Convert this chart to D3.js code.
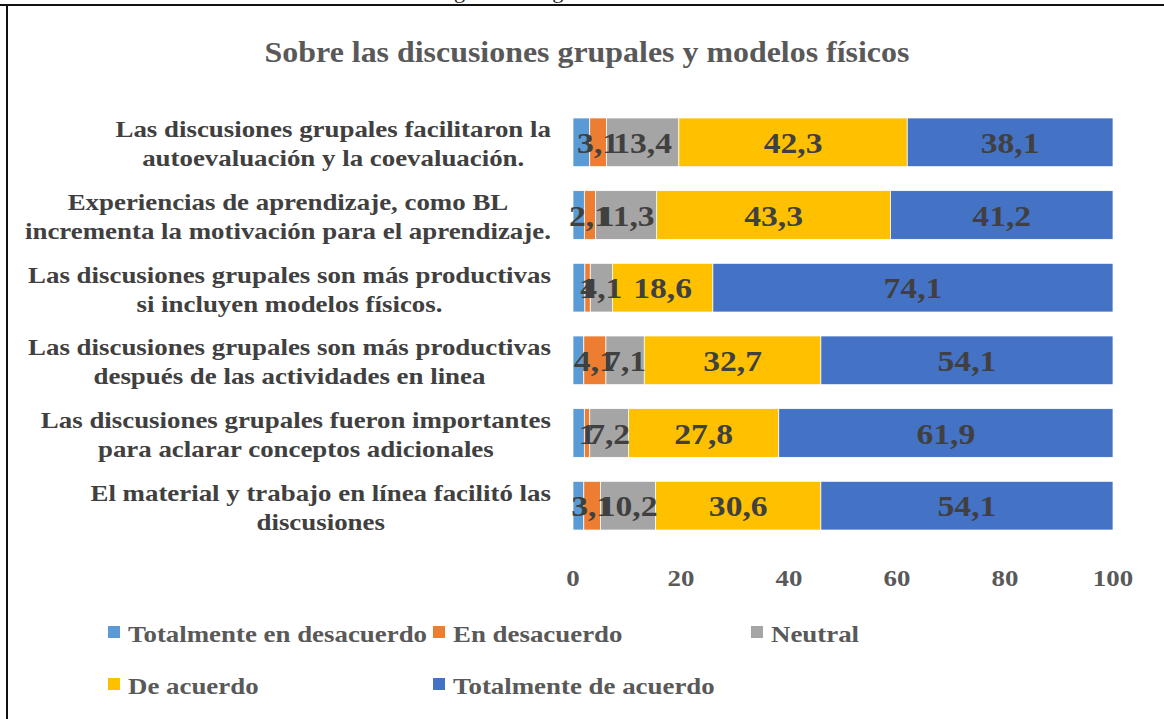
<!DOCTYPE html>
<html>
<head>
<meta charset="utf-8">
<script src="https://cdn.jsdelivr.net/npm/d3@7"></script>
<style>
  body { margin: 0; background: #fff; }
  svg { display: block; font-family: "Liberation Serif", "Times New Roman", serif; font-weight: bold; }
</style>
</head>
<body>
<div id="chart"></div>
<script>
// chart data
const categories = [
    ["Las discusiones grupales facilitaron la", "autoevaluación y la coevaluación."],
    ["Experiencias de aprendizaje, como  BL", "incrementa la motivación para el aprendizaje."],
    ["Las discusiones grupales son más productivas", "si incluyen modelos físicos."],
    ["Las discusiones grupales son más productivas", "después de las actividades en linea"],
    ["Las discusiones grupales  fueron importantes", "para aclarar conceptos adicionales"],
    ["El material y trabajo en línea facilitó las", "discusiones"]
];
const seriesNames = ["Totalmente en desacuerdo", "En desacuerdo", "Neutral", "De acuerdo", "Totalmente de acuerdo"];
const totDesacuerdo = [3.1, 2.1, 2.2, 2.0, 2.1, 2.0];
const desacuerdo = [3.1, 2.1, 1, 4.1, 1, 3.1];
const neutral = [13.4, 11.3, 4.1, 7.1, 7.2, 10.2];
const deAcuerdo = [42.3, 43.3, 18.6, 32.7, 27.8, 30.6];
const totAcuerdo = [38.1, 41.2, 74.1, 54.1, 61.9, 54.1];
const xTicks = [0, 20, 40, 60, 80, 100];

const colors = ["#5B9BD5", "#ED7D31", "#A5A5A5", "#FFC000", "#4472C4"];
const showLabel = [false, true, true, true, true];

const width = 1164, height = 719;
const sx = 1.12;   // the source picture is a bit stretched sideways

const svg = d3.select("#chart").append("svg")
    .attr("width", width)
    .attr("height", height)
    .style("white-space", "pre");

// text with the horizontal stretch
function stext(parent, px, py, anchor) {
    return parent.append("text")
        .attr("transform", `translate(${px},${py}) scale(${sx},1)`)
        .attr("text-anchor", anchor);
}

// caption cut off by the page edge
stext(svg, 560, -2, "middle").attr("font-size", 20).attr("font-weight", "normal")
    .attr("fill", "#222").text("Figura 4: Preguntas BL-MF");

// frame (left + top rule)
svg.append("line").attr("x1", 0).attr("x2", width).attr("y1", 5).attr("y2", 5)
    .attr("stroke", "#111").attr("stroke-width", 2);
svg.append("line").attr("x1", 7).attr("x2", 7).attr("y1", 5).attr("y2", height)
    .attr("stroke", "#111").attr("stroke-width", 2);

// title
stext(svg, 587, 62, "middle")
    .attr("font-size", 28.5)
    .attr("fill", "#595959")
    .text("Sobre las discusiones grupales y modelos físicos");

const x = d3.scaleLinear().domain([0, 100]).range([573, 1113]);
const y = d3.scaleBand().domain(d3.range(categories.length)).range([106, 542]).paddingInner(0.33).paddingOuter(0.165);

const rows = categories.map((c, i) => ({
    idx: i,
    vals: [totDesacuerdo[i], desacuerdo[i], neutral[i], deAcuerdo[i], totAcuerdo[i]]
}));
const stack = d3.stack().keys(d3.range(5)).value((d, k) => d.vals[k]);
const layers = stack(rows);

const fmt = v => Number.isInteger(v) ? String(v) : v.toFixed(1).replace(".", ",");

const g = svg.append("g");
layers.forEach((layer, k) => {
    g.selectAll(".bar" + k)
        .data(layer)
        .join("rect")
        .attr("x", d => x(d[0]))
        .attr("y", d => y(d.data.idx))
        .attr("width", d => x(d[1]) - x(d[0]))
        .attr("height", y.bandwidth())
        .attr("fill", colors[k])
        .attr("stroke", "#fff")
        .attr("stroke-width", 0.75);
});
layers.forEach((layer, k) => {
    if (!showLabel[k]) return;
    layer.forEach(d => {
        stext(g, (x(d[0]) + x(d[1])) / 2, y(d.data.idx) + y.bandwidth() / 2 + 10.5, "middle")
            .attr("font-size", 30)
            .attr("fill", "#404040")
            .text(fmt(d.data.vals[k]));
    });
});

// category labels: widest line right-aligned near axis, lines centered
const catG = svg.append("g");
categories.forEach((lines, i) => {
    const t = catG.append("text")
        .attr("font-size", 24)
        .attr("fill", "#404040")
        .attr("text-anchor", "middle");
    const spans = lines.map((l, j) => t.append("tspan")
        .attr("x", 0)
        .attr("y", y(i) + y.bandwidth() / 2 - 5 + j * 29)
        .text(l));
    const maxW = d3.max(spans, s => s.node().getComputedTextLength()) * sx;
    const cx = 551 - maxW / 2;
    t.attr("transform", `translate(${cx},0) scale(${sx},1)`);
});

// x axis tick labels
const tickG = svg.append("g");
xTicks.forEach(v => {
    stext(tickG, x(v), 586, "middle")
        .attr("font-size", 24)
        .attr("fill", "#595959")
        .text(v);
});

// legend
const legendPos = [[108, 633], [433, 633], [751, 633], [108, 685], [433, 685]];
const leg = svg.append("g");
seriesNames.forEach((name, k) => {
    const [lx, ly] = legendPos[k];
    leg.append("rect")
        .attr("x", lx).attr("y", ly - 7)
        .attr("width", 12).attr("height", 12)
        .attr("fill", colors[k]);
    stext(leg, lx + 20, ly + 8.5, "start")
        .attr("font-size", 24)
        .attr("fill", "#595959")
        .text(name);
});
</script>
</body>
</html>
